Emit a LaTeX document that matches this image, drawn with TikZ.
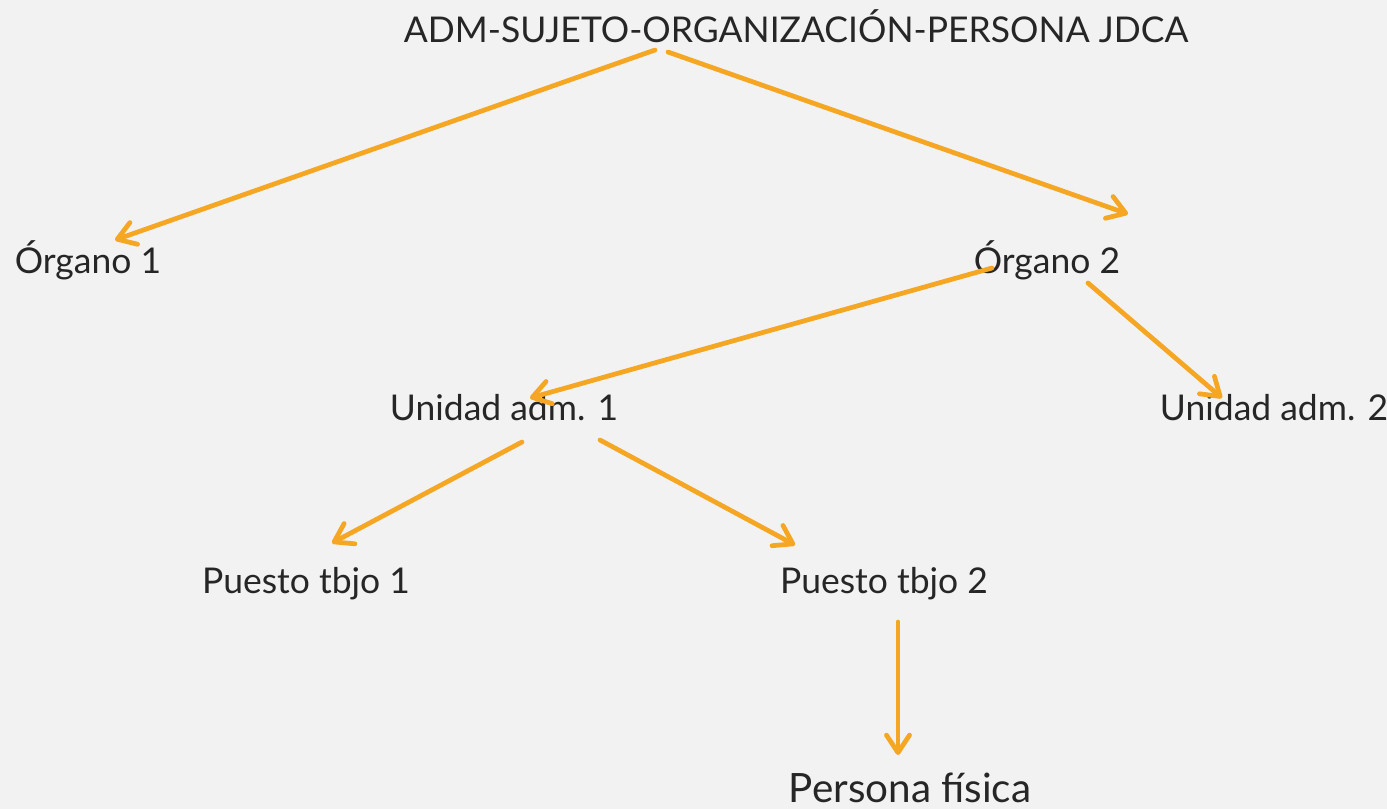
\documentclass[tikz,border=0pt]{standalone}
\usepackage{fontspec}
\setmainfont{Lato}
\usetikzlibrary{arrows.meta}
\definecolor{bgcol}{HTML}{F2F2F2}
\definecolor{arrcol}{HTML}{F5A623}
\definecolor{txtcol}{HTML}{262626}
\tikzstyle{lbl}=[anchor=base, inner sep=0pt, text=txtcol, font=\fontsize{20.2}{24}\selectfont]
\tikzstyle{big}=[lbl, font=\fontsize{23}{27}\selectfont]
\tikzstyle{conn}=[draw=arrcol, line width=2.7pt, line cap=round, -{Straight Barb[round, length=3.5mm, width=4.6mm]}]

\begin{document}
\begin{tikzpicture}[x=0.02cm, y=-0.02cm]
	\fill[bgcol] (0,0) rectangle (1387,809);
	\useasboundingbox (0,0) rectangle (1387,809);

	% labels
	\node[lbl](adm) at (796,42){ADM-SUJETO-ORGANIZACIÓN-PERSONA JDCA};
	\node[lbl](org1) at (88,273){Órgano 1};
	\node[lbl](org2) at (1047,273){Órgano 2};
	\node[lbl](uni1) at (504,420){Unidad adm. 1};
	\node[lbl](uni2) at (1274,420){Unidad adm. 2};
	\node[lbl](pto1) at (306,593){Puesto tbjo 1};
	\node[lbl](pto2) at (884,593){Puesto tbjo 2};
	\node[big](pers) at (910,802){Persona física};

	% arrow ends
	\coordinate (adm-l) at (655,50);
	\coordinate (adm-r) at (668,52);
	\coordinate (org1-t) at (115,240);
	\coordinate (org2-t) at (1128,214);
	\coordinate (org2-l) at (992,268);
	\coordinate (org2-r) at (1088,283);
	\coordinate (uni1-t) at (530,398);
	\coordinate (uni2-t) at (1222,398);
	\coordinate (uni1-l) at (522,442);
	\coordinate (uni1-r) at (600,440);
	\coordinate (pto1-t) at (332,543);
	\coordinate (pto2-t) at (795,545);
	\coordinate (pto2-b) at (898,622);
	\coordinate (pers-t) at (898,755);

	\draw[conn] (adm-l) -- (org1-t);
	\draw[conn] (adm-r) -- (org2-t);
	\draw[conn] (org2-l) -- (uni1-t);
	\draw[conn] (org2-r) -- (uni2-t);
	\draw[conn] (uni1-l) -- (pto1-t);
	\draw[conn] (uni1-r) -- (pto2-t);
	\draw[conn] (pto2-b) -- (pers-t);
\end{tikzpicture}
\end{document}
